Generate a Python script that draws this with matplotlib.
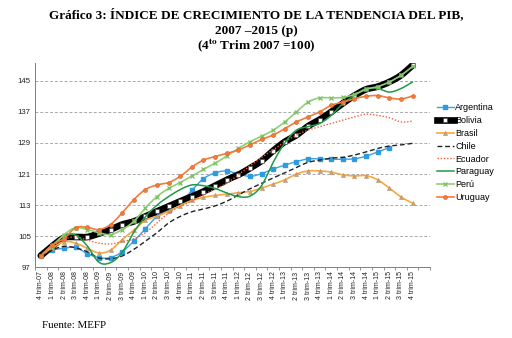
import numpy as np
import matplotlib
matplotlib.use("Agg")
import matplotlib.pyplot as plt
from matplotlib.lines import Line2D

# Quarters 4T-2007 .. 4T-2015
quarters = ["4 trim-07"] + [f"{q} trim-{y:02d}" for y in range(8, 16) for q in (1, 2, 3, 4)]

argentina = [100, 101.4, 101.9, 102.1, 100.5, 99.5, 99.5, 101.0, 103.7, 106.9, 110.1, 111.8,
             113.5, 116.8, 119.8, 121.3, 121.8, 121.0, 120.4, 121.1, 122.3, 123.3, 124.2, 124.9,
             124.9, 124.8, 124.8, 124.9, 125.6, 126.7, 127.8, None, None]
bolivia = [100, 102.5, 104.6, 104.8, 104.8, 105.7, 106.7, 108.0, 108.8, 110.1, 111.4, 112.7,
           114.0, 115.2, 116.5, 118.0, 119.5, 120.8, 122.5, 124.4, 127.0, 129.3, 131.0, 133.3,
           135.0, 137.0, 139.2, 141.2, 142.8, 143.5, 144.7, 146.4, 149.0]
brasil = [100, 102.0, 103.6, 103.2, 101.9, 100.7, 101.4, 104.1, 106.5, 109.1, 110.1, 111.4,
          112.9, 114.2, 115.0, 115.5, 115.8, 116.2, 116.5, 117.4, 118.4, 119.5, 121.0, 121.8,
          121.8, 121.5, 120.8, 120.5, 120.6, 119.5, 117.4, 115.1, 113.5]
chile = [100, 101.5, 102.4, 102.0, 101.0, 99.4, 99.2, 99.9, 101.6, 103.7, 105.9, 108.4,
         110.1, 111.3, 112.0, 112.8, 114.0, 115.6, 117.2, 118.6, 120.0, 121.3, 122.7, 124.0,
         124.6, 125.1, 125.3, 125.9, 126.7, 127.6, 128.2, 128.5, 128.9]
ecuador = [100, 102.3, 104.2, 104.8, 104.0, 103.2, 103.0, 103.6, 104.3, 105.9, 108.4, 111.0,
           112.7, 114.0, 115.7, 117.1, 118.6, 120.8, 123.1, 125.3, 127.2, 129.3, 131.0, 132.3,
           133.2, 134.0, 134.9, 135.7, 136.4, 136.1, 135.5, 134.4, 134.6]
paraguay = [100, 102.8, 105.0, 105.3, 102.5, 98.3, 98.2, 100.8, 106.0, 110.0, 113.0, 115.2,
            117.0, 118.2, 118.0, 117.3, 116.1, 115.2, 115.3, 118.0, 124.0, 129.0, 132.3, 133.2,
            134.0, 136.1, 139.2, 141.2, 143.0, 143.0, 142.1, 143.0, 144.7]
peru = [100, 102.5, 105.4, 107.2, 106.7, 105.9, 105.4, 106.7, 108.8, 112.3, 115.2, 117.3,
        118.8, 120.5, 122.2, 123.8, 125.6, 127.6, 129.3, 130.7, 132.3, 134.4, 137.0, 139.5,
        140.6, 140.6, 140.7, 141.5, 142.8, 143.5, 144.7, 146.4, 148.7]
uruguay = [100, 102.8, 104.4, 107.2, 107.3, 106.7, 108.0, 111.0, 114.4, 117.0, 118.2, 118.8,
           120.4, 122.8, 124.6, 125.5, 126.3, 127.2, 128.5, 129.9, 131.0, 132.7, 134.4, 135.7,
           137.0, 138.7, 139.5, 140.4, 141.0, 141.2, 140.6, 140.3, 141.1]

yticks = [97, 105, 113, 121, 129, 137, 145]

plt.rcParams["font.family"] = "Liberation Sans"
plt.rcParams["mathtext.fontset"] = "stix"


def smooth(xs, ys, n=16):
    """Catmull-Rom curve through the points (like a smoothed line in a spreadsheet)."""
    xs = np.asarray(xs, float)
    ys = np.asarray(ys, float)
    px, py = [], []
    m = len(xs)
    for i in range(m - 1):
        i0, i3 = max(i - 1, 0), min(i + 2, m - 1)
        t = np.linspace(0, 1, n, endpoint=(i == m - 2))
        for arr, out in ((xs, px), (ys, py)):
            p0, p1, p2, p3 = arr[i0], arr[i], arr[i + 1], arr[i3]
            out.extend(0.5 * ((2 * p1) + (-p0 + p2) * t + (2 * p0 - 5 * p1 + 4 * p2 - p3) * t ** 2
                              + (-p0 + 3 * p1 - 3 * p2 + p3) * t ** 3))
    return np.array(px), np.array(py)


series = [
    ("Argentina", argentina, dict(color="#3AA3E3", lw=1.0), dict(marker="s", ms=3, mfc="#2E9BE0", mec="#2E9BE0")),
    ("Bolivia", bolivia, dict(color="black", lw=4.8), dict(marker="s", ms=2.2, mfc="white", mec="#404040", mew=0.4)),
    ("Brasil", brasil, dict(color="#F8A83F", lw=1.2), dict(marker="^", ms=3, mfc="#C8A27A", mec="#B89470", mew=0.4)),
    ("Chile", chile, dict(color="#222222", lw=1.0, ls=(0, (3.5, 2))), None),
    ("Ecuador", ecuador, dict(color="#F0603A", lw=1.0, ls=(0, (1, 1.3))), None),
    ("Paraguay", paraguay, dict(color="#1E9A48", lw=1.1), None),
    ("Perú", peru, dict(color="#8FD076", lw=1.2), dict(marker="x", ms=3, mfc="#8FD076", mec="#7CC062", mew=0.9)),
    ("Uruguay", uruguay, dict(color="#F47B3A", lw=1.2), dict(marker="o", ms=2.8, mfc="#F47B3A", mec="#D8682E", mew=0.5)),
]

fig = plt.figure(figsize=(5.12, 3.38), dpi=100)
ax = fig.add_axes([35 / 512, 1 - 267.3 / 338, (430 - 35) / 512, (267.3 - 63.3) / 338])

handles = []
for name, vals, lstyle, mstyle in series:
    xs = [i for i, v in enumerate(vals) if v is not None]
    ys = [v for v in vals if v is not None]
    sx, sy = smooth(xs, ys)
    ax.plot(sx, sy, solid_capstyle="round", **lstyle)
    if mstyle:
        ax.plot(xs, ys, ls="none", **mstyle)
        handles.append(Line2D([], [], **lstyle, **mstyle))
    else:
        handles.append(Line2D([], [], **lstyle))

ax.set_xlim(-0.5, 33.5)
ax.set_ylim(97, 149.5)
ax.set_yticks(yticks)
ax.set_yticklabels([str(t) for t in yticks], fontsize=5.6, color="#222222")
for t in yticks[1:]:
    ax.axhline(t, color="#A8A8B0", lw=0.7, ls=(0, (3, 2)), zorder=0)

ax.set_xticks(range(len(quarters)))
ax.set_xticklabels(quarters, rotation=90, fontsize=5.0, color="#222222")
ax.set_xticks(np.arange(-0.5, 34, 1), minor=True)
ax.tick_params(axis="x", which="major", length=0, pad=3)
ax.tick_params(axis="x", which="minor", length=2.5, width=0.6, color="#808080")
ax.tick_params(axis="y", length=0, pad=3)

for s in ("top", "right"):
    ax.spines[s].set_visible(False)
for s in ("left", "bottom"):
    ax.spines[s].set_color("#808080")
    ax.spines[s].set_linewidth(0.7)

fig.legend(handles, [s[0] for s in series], loc="center left",
           bbox_to_anchor=(432 / 512, 1 - 152.7 / 338), frameon=False, fontsize=6.5,
           handlelength=1.9, handletextpad=0.15, labelspacing=0.42, borderpad=0)

title_kw = dict(ha="center", va="center", fontsize=9.5, fontweight="bold", family="Liberation Serif")
fig.text(0.5, 1 - 15 / 338, "Gráfico 3: ÍNDICE DE CRECIMIENTO DE LA TENDENCIA DEL PIB,", **title_kw)
fig.text(0.5, 1 - 31 / 338, "2007 –2015 (p)", **title_kw)
fig.text(0.5, 1 - 46 / 338, r"(4$^{\mathbf{to}}$ Trim 2007 =100)", **title_kw)
fig.text(42 / 512, 1 - 325 / 338, "Fuente: MEFP", ha="left", va="center",
         fontsize=7.8, family="Liberation Serif")

fig.savefig("out.png", dpi=100)
